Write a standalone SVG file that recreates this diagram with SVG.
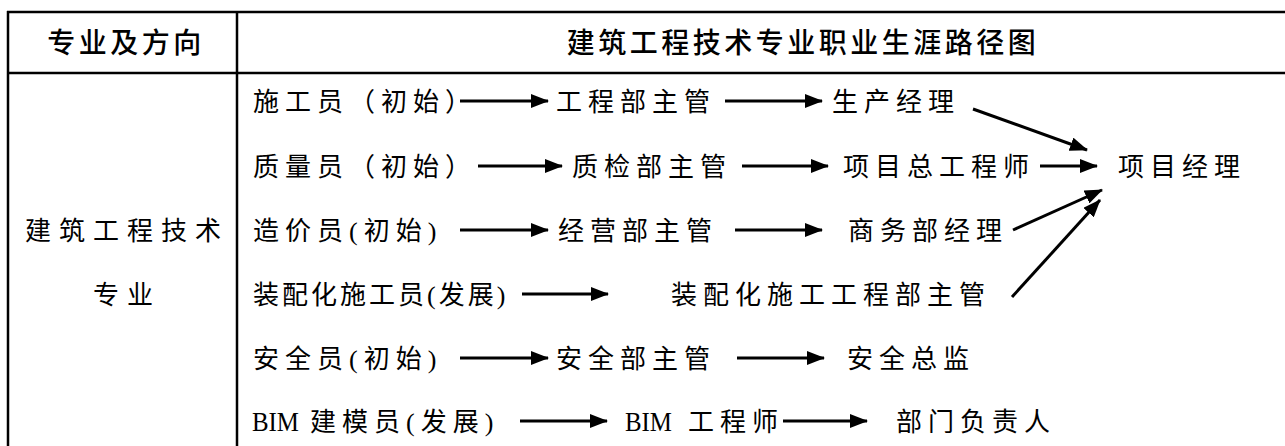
<svg xmlns="http://www.w3.org/2000/svg" width="1285" height="446" viewBox="0 0 1285 446">
<defs>
<marker id="ah" viewBox="0 0 18 14" refX="17" refY="7" markerWidth="18" markerHeight="14" markerUnits="userSpaceOnUse" orient="auto">
<path d="M0,0 L18,7 L0,14 Z" fill="#000"/>
</marker>
<style>
.grid{stroke:#000;stroke-width:2.5;fill:none}
.hd{font-family:"Noto Sans CJK SC",sans-serif;font-size:28px;font-weight:500;letter-spacing:3.5px;fill:#000}
.t{font-family:"Liberation Serif","Noto Sans CJK SC",serif;font-size:26px;letter-spacing:6px;fill:#000}
.lat{font-size:28px;letter-spacing:0}
.c{text-anchor:middle}
.ar{stroke:#000;stroke-width:3;fill:none;marker-end:url(#ah)}
</style>
</defs>
<rect width="1285" height="446" fill="#fff"/>
<g id="table">
<line class="grid" x1="7" y1="12" x2="1285" y2="12"/>
<line class="grid" x1="7" y1="73" x2="1285" y2="73"/>
<line class="grid" x1="8" y1="11" x2="8" y2="446"/>
<line class="grid" x1="237" y1="11" x2="237" y2="446"/>
</g>
<g id="header">
<text class="hd c" x="126" y="53">专业及方向</text>
<text class="hd c" x="803" y="53">建筑工程技术专业职业生涯路径图</text>
</g>
<g id="major">
<text class="t c" x="127" y="240" style="letter-spacing:8px">建筑工程技术</text>
<text class="t c" x="127" y="304" style="letter-spacing:8px">专业</text>
</g>
<g id="n1a"><text class="t" x="253" y="111">施工员（初始）</text></g>
<g id="n1b"><text class="t" x="556" y="111">工程部主管</text></g>
<g id="n1c"><text class="t" x="832" y="111">生产经理</text></g>
<g id="n2a"><text class="t" x="253" y="176">质量员（初始）</text></g>
<g id="n2b"><text class="t" x="572" y="176">质检部主管</text></g>
<g id="n2c"><text class="t" x="843" y="176">项目总工程师</text></g>
<g id="n2d"><text class="t" x="1118" y="176">项目经理</text></g>
<g id="n3a"><text class="t" x="253" y="240">造价员(初始)</text></g>
<g id="n3b"><text class="t" x="558" y="240">经营部主管</text></g>
<g id="n3c"><text class="t" x="848" y="240">商务部经理</text></g>
<g id="n4a"><text class="t" x="253" y="304" style="letter-spacing:3px">装配化施工员(发展)</text></g>
<g id="n4b"><text class="t" x="671" y="304">装配化施工工程部主管</text></g>
<g id="n5a"><text class="t" x="253" y="368">安全员(初始)</text></g>
<g id="n5b"><text class="t" x="556" y="368">安全部主管</text></g>
<g id="n5c"><text class="t" x="847" y="368">安全总监</text></g>
<g id="n6a"><text class="t" x="252" y="431"><tspan class="lat" textLength="47" lengthAdjust="spacingAndGlyphs">BIM</tspan><tspan x="310">建模员(发展)</tspan></text></g>
<g id="n6b"><text class="t" x="625" y="431"><tspan class="lat" textLength="47" lengthAdjust="spacingAndGlyphs">BIM</tspan><tspan x="688">工程师</tspan></text></g>
<g id="n6c"><text class="t" x="896" y="431">部门负责人</text></g>
<g id="connectors">
<line class="ar" x1="460" y1="101" x2="548" y2="101"/>
<line class="ar" x1="725" y1="101" x2="822" y2="101"/>
<line class="ar" x1="973" y1="109" x2="1087" y2="150"/>
<line class="ar" x1="478" y1="166" x2="562" y2="166"/>
<line class="ar" x1="742" y1="166" x2="828" y2="166"/>
<line class="ar" x1="1040" y1="166" x2="1097" y2="166"/>
<line class="ar" x1="460" y1="230" x2="548" y2="230"/>
<line class="ar" x1="735" y1="230" x2="822" y2="230"/>
<line class="ar" x1="1013" y1="230" x2="1102" y2="190"/>
<line class="ar" x1="522" y1="294" x2="608" y2="294"/>
<line class="ar" x1="1012" y1="297" x2="1100" y2="200"/>
<line class="ar" x1="460" y1="358" x2="548" y2="358"/>
<line class="ar" x1="737" y1="358" x2="824" y2="358"/>
<line class="ar" x1="520" y1="421" x2="607" y2="421"/>
<line class="ar" x1="783" y1="421" x2="867" y2="421"/>
</g>
</svg>
